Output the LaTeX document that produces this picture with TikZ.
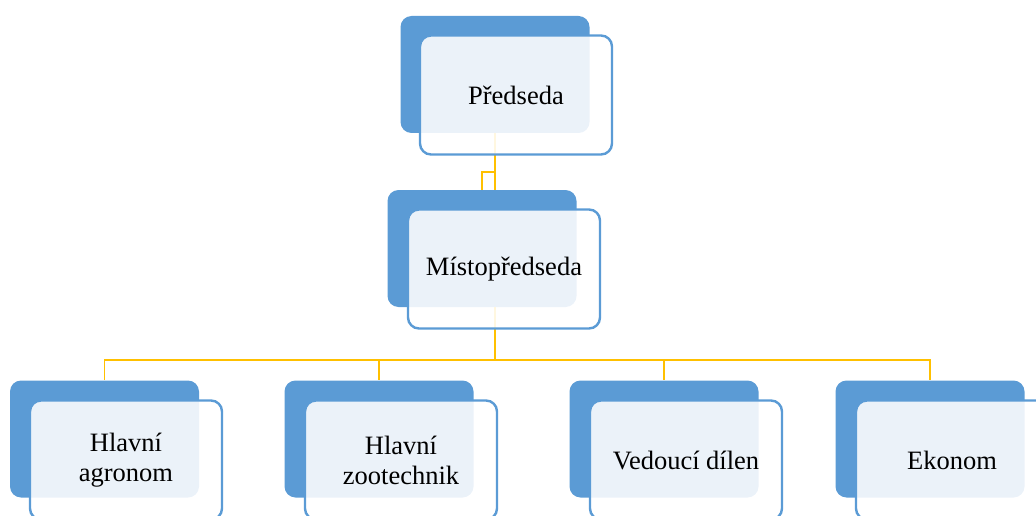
\documentclass[tikz,border=0pt]{standalone}
\usepackage{fontspec}
\setmainfont{Liberation Serif}
\definecolor{acc}{HTML}{5B9BD5}
\definecolor{conn}{HTML}{FFC000}
\tikzset{
  backbox/.style={fill=acc, draw=none, rounded corners=11pt, inner sep=0pt, minimum width=189pt, minimum height=117pt},
  frontbox/.style={fill=white, fill opacity=0.88, text opacity=1, draw=acc, draw opacity=1, line width=2.4pt, rounded corners=11pt, inner sep=0pt, minimum width=192pt, minimum height=119pt, align=center, font=\fontsize{26.5}{30}\selectfont},
  link/.style={draw=conn, line width=1.5pt}
}
\begin{document}
\begin{tikzpicture}[x=1pt,y=-1pt]
\useasboundingbox (0,0) rectangle (1036,516);
\clip (0,0) rectangle (1036,516);
% back boxes
\node[backbox] (pB) at (495,74.5) {};
\node[backbox] (mB) at (482,248.5) {};
\node[backbox] (b1) at (104.5,439) {};
\node[backbox] (b2) at (379,439) {};
\node[backbox] (b3) at (664,439) {};
\node[backbox] (b4) at (930,439) {};
% connectors
\coordinate (j1) at (495,172);
\coordinate (j2) at (495,360);
\draw[link] (pB.south) -- (j1 |- mB.north);
\draw[link] (j1) -| (mB.north);
\draw[link] (j2 |- mB.south) -- (j2);
\draw[link] (j2) -| (b1.north);
\draw[link] (j2) -| (b2.north);
\draw[link] (j2) -| (b3.north);
\draw[link] (j2) -| (b4.north);
% front boxes
\node[frontbox] (pF) at (516,95) {Předseda};
\node[frontbox] (mF) at (504,269) {Místopředseda};
\node[frontbox] (f1) at (126,460) {Hlavní\\agronom};
\node[frontbox] (f2) at (401,460) {Hlavní\\zootechnik};
\node[frontbox] (f3) at (686,460) {Vedoucí dílen};
\node[frontbox] (f4) at (952,460) {Ekonom};
\end{tikzpicture}
\end{document}
